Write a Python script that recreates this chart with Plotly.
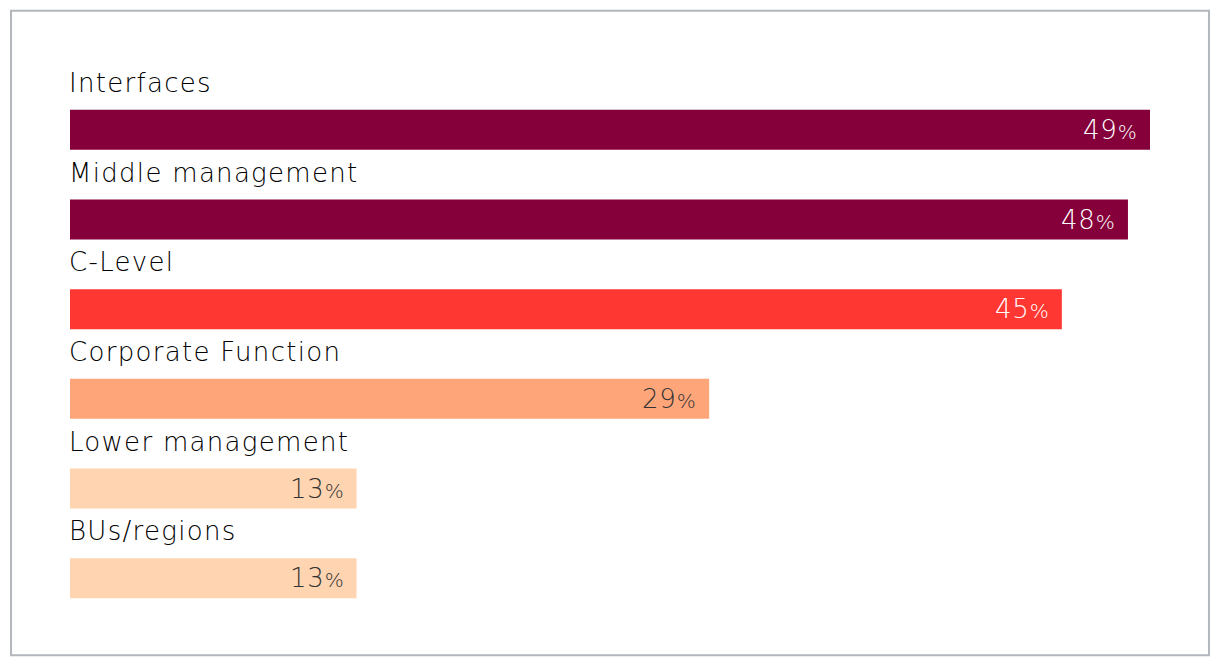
import plotly.graph_objects as go

categories = ["Interfaces", "Middle management", "C-Level", "Corporate Function", "Lower management", "BUs/regions"]
values = [49, 48, 45, 29, 13, 13]
bar_colors = ["#85003A", "#85003A", "#FF3732", "#FFA57A", "#FFD4B0", "#FFD4B0"]
label_colors = ["#FFFFFF", "#FFFFFF", "#FFFFFF", "#333333", "#333333", "#333333"]

FONT = "DejaVu Sans"
idx = list(range(len(categories)))

fig = go.Figure()
fig.add_trace(go.Bar(
    x=values, y=idx, orientation="h",
    marker=dict(color=bar_colors, line=dict(width=0)),
    width=0.446, hoverinfo="skip",
))

annotations = []
for i, (c, v, tc) in enumerate(zip(categories, values, label_colors)):
    annotations.append(dict(
        x=0, y=i - 0.5, xref="x", yref="y",
        text=f"<span style='letter-spacing:1.3px'>{c}</span>", showarrow=False,
        xanchor="left", yanchor="middle", yshift=2, xshift=-3,
        font=dict(family=FONT, size=26, color="#000000", weight=200),
    ))
    annotations.append(dict(
        x=v, y=i, xref="x", yref="y",
        text=f"<span style='letter-spacing:0.8px'>{v}</span><span style='font-size:20px'>%</span>", showarrow=False,
        xanchor="right", yanchor="middle", xshift=-11,
        font=dict(family=FONT, size=26, color=tc, weight=200),
    ))

fig.update_layout(
    width=1212, height=658,
    margin=dict(l=62, r=70, t=77, b=43),
    paper_bgcolor="white", plot_bgcolor="white",
    showlegend=False,
    xaxis=dict(range=[0, 49], visible=False, fixedrange=True),
    yaxis=dict(range=[5.5, -0.5], visible=False, fixedrange=True),
    annotations=annotations,
    shapes=[dict(
        type="rect", xref="paper", yref="paper",
        x0=-0.0546, x1=1.0546, y0=-0.0599, y1=1.138,
        line=dict(color="#B2B7BC", width=2), fillcolor="rgba(0,0,0,0)",
        layer="below",
    )],
)

fig.write_html("out.html")
